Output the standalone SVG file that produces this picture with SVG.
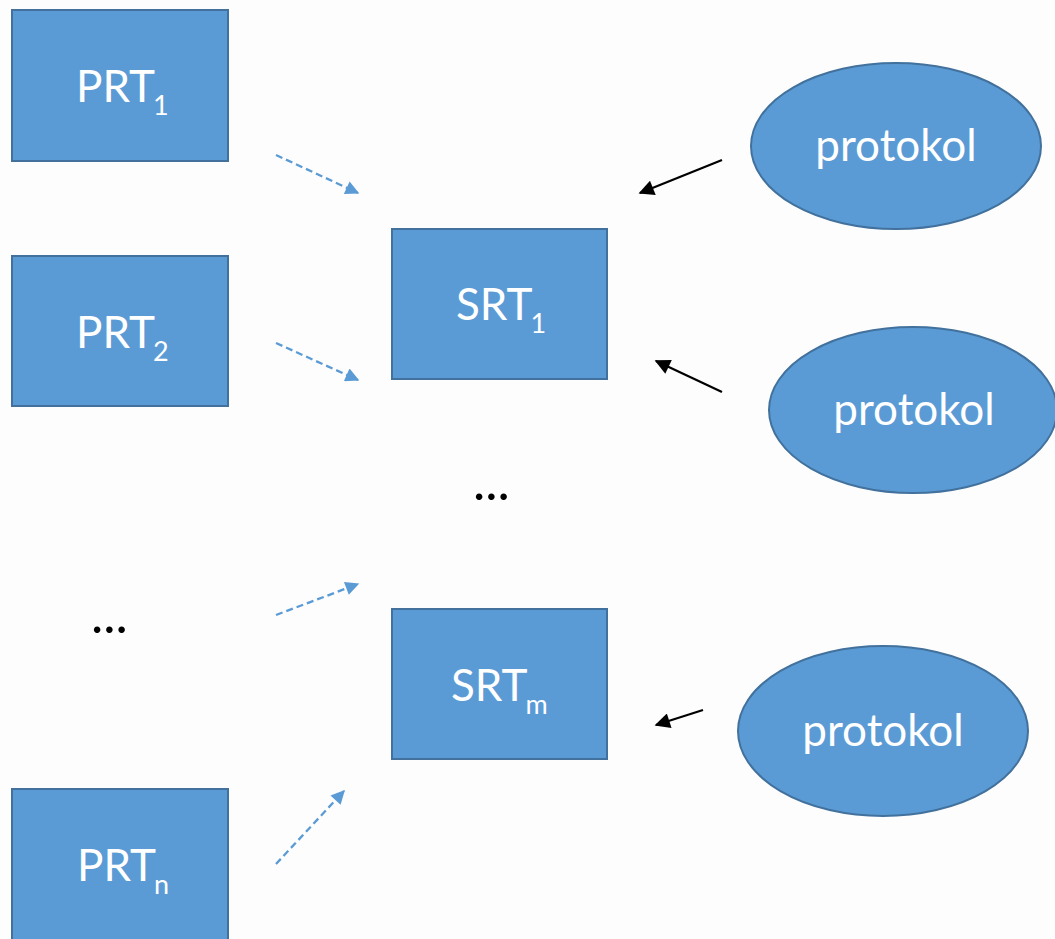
<svg xmlns="http://www.w3.org/2000/svg" width="1055" height="939" viewBox="0 0 1055 939">
  <style>
    .box { fill: #5B9BD5; stroke: #41719C; stroke-width: 2; }
    .lbl { fill: #ffffff; font-family: Lato, "Open Sans", "Liberation Sans", sans-serif; font-size: 44px; }
    .sub { font-size: 27px; }
    .dash { stroke: #5B9BD5; stroke-width: 2.3; stroke-dasharray: 7 4; fill: none; marker-end: url(#blueHead); }
    .solid { stroke: #000000; stroke-width: 2.2; fill: none; marker-end: url(#blackHead); }
    .dots { fill: #000000; font-family: Lato, "Liberation Sans", sans-serif; font-size: 52px; }
  </style>
  <defs>
    <marker id="blueHead" viewBox="0 0 10 10" refX="9" refY="5" markerWidth="7" markerHeight="6" orient="auto" markerUnits="strokeWidth">
      <path d="M0,0 L10,5 L0,10 z" fill="#5B9BD5"/>
    </marker>
    <marker id="blackHead" viewBox="0 0 10 10" refX="9" refY="5" markerWidth="8" markerHeight="7" orient="auto" markerUnits="strokeWidth">
      <path d="M0,0 L10,5 L0,10 z" fill="#000000"/>
    </marker>
  </defs>

  <rect width="1055" height="939" fill="#fdfdfd"/>

  <g id="connectors">
    <line class="dash" x1="276" y1="155" x2="358" y2="193"/>
    <line class="dash" x1="276" y1="343" x2="358" y2="380"/>
    <line class="dash" x1="276" y1="615" x2="358" y2="584"/>
    <line class="dash" x1="276" y1="864" x2="344" y2="791"/>
    <line class="solid" x1="722" y1="160" x2="640" y2="193"/>
    <line class="solid" x1="722" y1="392" x2="656" y2="361"/>
    <line class="solid" x1="703" y1="710" x2="656" y2="725"/>
  </g>

  <g id="prt1">
    <rect class="box" x="12" y="10" width="216" height="151"/>
    <text class="lbl" x="76" y="102">PRT<tspan class="sub" dy="13" dx="-2">1</tspan></text>
  </g>
  <g id="prt2">
    <rect class="box" x="12" y="256" width="216" height="150"/>
    <text class="lbl" x="76" y="348">PRT<tspan class="sub" dy="13" dx="-2">2</tspan></text>
  </g>
  <g id="prt-dots">
    <text class="dots" x="91" y="633">...</text>
  </g>
  <g id="prtn">
    <rect class="box" x="12" y="789" width="216" height="160"/>
    <text class="lbl" x="77" y="881">PRT<tspan class="sub" dy="13" dx="-2">n</tspan></text>
  </g>

  <g id="srt1">
    <rect class="box" x="392" y="229" width="215" height="150"/>
    <text class="lbl" x="456" y="320">SRT<tspan class="sub" dy="13" dx="-2">1</tspan></text>
  </g>
  <g id="srt-dots">
    <text class="dots" x="473" y="500">...</text>
  </g>
  <g id="srtm">
    <rect class="box" x="392" y="609" width="215" height="150"/>
    <text class="lbl" x="451" y="701">SRT<tspan class="sub" dy="13" dx="-2">m</tspan></text>
  </g>

  <g id="protokol1">
    <ellipse class="box" cx="896" cy="146" rx="145" ry="83"/>
    <text class="lbl" x="896" y="161" text-anchor="middle">protokol</text>
  </g>
  <g id="protokol2">
    <ellipse class="box" cx="913" cy="410" rx="144" ry="83"/>
    <text class="lbl" x="914" y="425" text-anchor="middle">protokol</text>
  </g>
  <g id="protokol3">
    <ellipse class="box" cx="883" cy="731" rx="145" ry="85"/>
    <text class="lbl" x="883" y="746" text-anchor="middle">protokol</text>
  </g>
</svg>
